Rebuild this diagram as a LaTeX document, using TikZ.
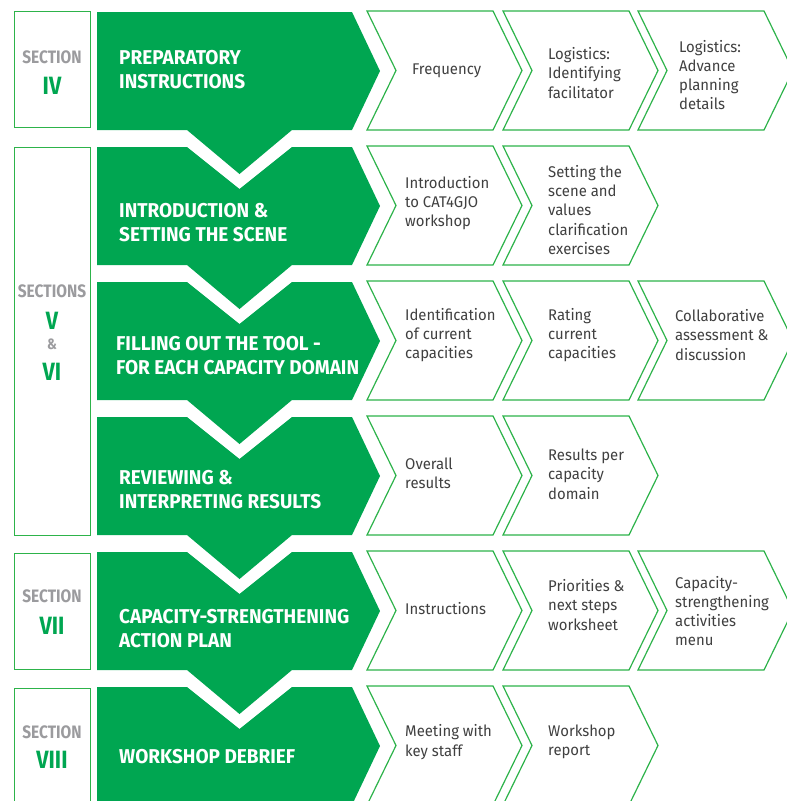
\documentclass[tikz,border=0pt]{standalone}
\usepackage{fontspec}
\setmainfont{Fira Sans}
\newfontfamily\headfont[FakeStretch=0.95]{Fira Sans}
\newfontfamily\secfont[FakeStretch=0.86]{Fira Sans}
\newfontfamily\bodyfont[FakeStretch=0.96]{Fira Sans}
\definecolor{sgreen}{HTML}{00A651}
\definecolor{lgreen}{HTML}{2DB34A}
\definecolor{sgray}{HTML}{9B9B9E}
\definecolor{tgray}{HTML}{404040}
\tikzset{
 stage/.style={fill=sgreen, draw=none},
 chev/.style={draw=lgreen, line width=1.2pt, fill=white, line join=miter},
 secbox/.style={draw=lgreen, line width=1pt},
 head/.style={anchor=west, align=left, text=white, font=\headfont\bfseries\fontsize{20}{24}\selectfont, inner sep=0pt},
 item/.style={anchor=west, align=left, text=tgray, font=\bodyfont\fontsize{15.5}{19.3}\selectfont, inner sep=0pt},
 seclbl/.style={text=sgray, font=\secfont\bfseries\fontsize{18}{20}\selectfont, inner sep=0pt},
 secnum/.style={text=sgreen, font=\secfont\bfseries\fontsize{25}{28}\selectfont, inner sep=0pt},
}
\begin{document}
\begin{tikzpicture}[x=1pt,y=-1pt]
\useasboundingbox (0,0) rectangle (787,801);
\clip (0,0) rectangle (787,801);
% green stage shapes
\foreach \t/\n in {12/0,147/1,282/1,417/1,552/1,687/1}{
  \pgfmathsetmacro\b{\t+118}
  \ifnum\n=1
    \fill[stage] (97,\t) -- (187,\t) -- (239.5,\t+42) -- (292,\t) -- (352,\t) -- (380,\t+59) -- (352,\b) -- (292,\b) -- (239.5,\b+44) -- (187,\b) -- (97,\b) -- cycle;
  \else
    \fill[stage] (97,\t) -- (352,\t) -- (380,\t+59) -- (352,\b) -- (292,\b) -- (239.5,\b+44) -- (187,\b) -- (97,\b) -- cycle;
  \fi
}
% chevrons
\foreach \t/\k in {11/3,146/2,281/3,416/2,551/3,686/2}{
  \foreach \L [count=\i] in {367,503,638}{
    \ifnum\i>\k\relax\else
      \draw[chev] (\L,\t) -- (\L+126,\t) -- (\L+155,\t+59.5) -- (\L+126,\t+119) -- (\L,\t+119) -- (\L+29,\t+59.5) -- cycle;
    \fi
  }
}
% section boxes
\draw[secbox] (14,11) rectangle (90,127);
\draw[secbox] (14,147) rectangle (90,535);
\draw[secbox] (14,553) rectangle (90,669);
\draw[secbox] (14,688) rectangle (90,812);
% section labels
\node[seclbl] (s1a) at (52,57) {SECTION};
\node[secnum] (s1b) at (52,86) {IV};
\node[seclbl] (s2a) at (52,291) {SECTIONS};
\node[secnum] (s2b) at (52,321) {V};
\node[seclbl, font=\secfont\bfseries\fontsize{15}{16}\selectfont] (s2c) at (52,344) {\&};
\node[secnum] (s2d) at (52,372) {VI};
\node[seclbl] (s3a) at (52,596) {SECTION};
\node[secnum] (s3b) at (52,626) {VII};
\node[seclbl] (s4a) at (52,732) {SECTION};
\node[secnum] (s4b) at (52,760) {VIII};
% headings
\node[head] (h1) at (119,70) {PREPARATORY\\INSTRUCTIONS};
\node[head] (h2) at (119,223) {INTRODUCTION \&\\SETTING THE SCENE};
\node[head] (h3) at (116,356) {FILLING OUT THE TOOL -\\FOR EACH CAPACITY DOMAIN};
\node[head] (h4) at (119,490) {REVIEWING \&\\INTERPRETING RESULTS};
\node[head] (h5) at (119,629) {CAPACITY-STRENGTHENING\\ACTION PLAN};
\node[head] (h6) at (119,757) {WORKSHOP DEBRIEF};
% chevron texts
\node[item] (c11) at (412,71) {Frequency};
\node[item] (c12) at (548,73) {Logistics:\\Identifying\\facilitator};
\node[item] (c13) at (679,75) {Logistics:\\Advance\\planning\\details};
\node[item] (c21) at (405,203) {Introduction\\to CAT4GJO\\workshop};
\node[item] (c22) at (548,210) {Setting the\\scene and\\values\\clarification\\exercises};
\node[item] (c31) at (405,335) {Identification\\of current\\capacities};
\node[item] (c32) at (548,335) {Rating\\current\\capacities};
\node[item] (c33) at (675,335) {Collaborative\\assessment \&\\discussion};
\node[item] (c41) at (405,473) {Overall\\results};
\node[item] (c42) at (548,474) {Results per\\capacity\\domain};
\node[item] (c51) at (405,609) {Instructions};
\node[item] (c52) at (548,605) {Priorities \&\\next steps\\worksheet};
\node[item] (c53) at (675,611) {Capacity-\\strengthening\\activities\\menu};
\node[item] (c61) at (405,742) {Meeting with\\key staff};
\node[item] (c62) at (548,742) {Workshop\\report};
\end{tikzpicture}
\end{document}
